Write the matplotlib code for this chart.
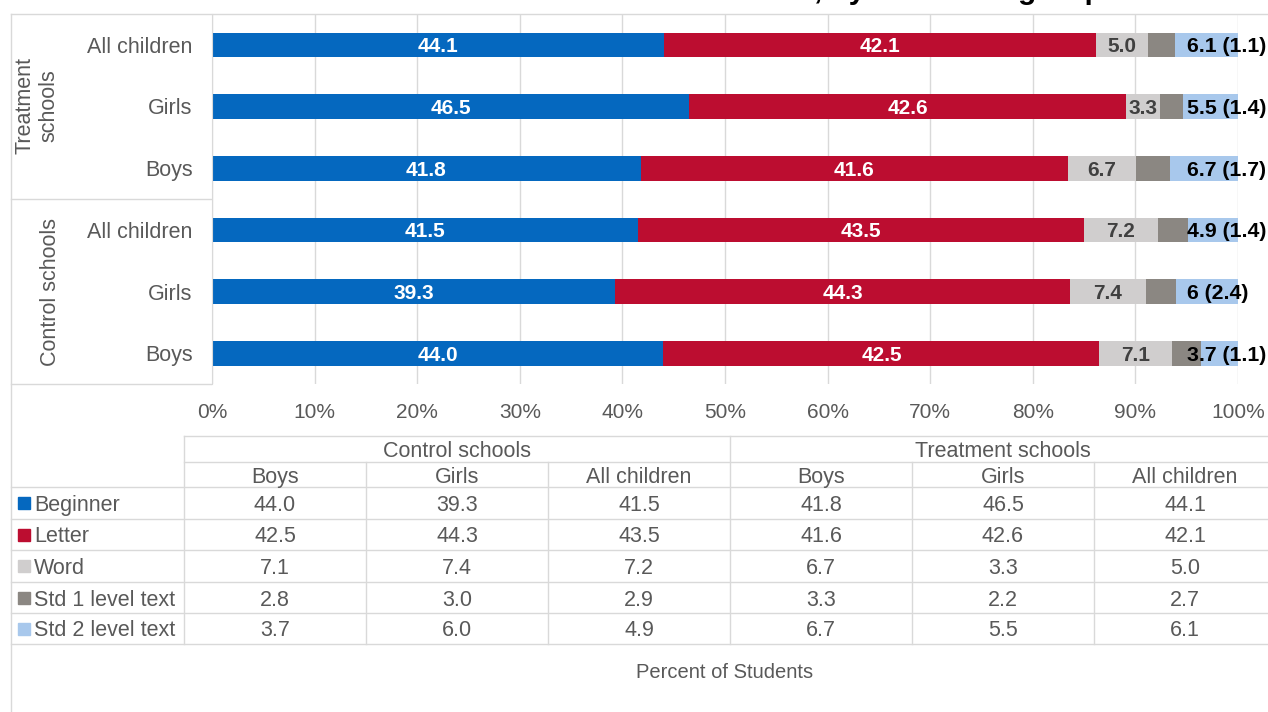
import matplotlib.pyplot as plt
import numpy as np

plt.rcParams['font.family'] = ['Liberation Sans', 'DejaVu Sans']

# data, in table order (bottom bar first)
groups = ["Control schools", "Treatment schools"]
subgroups = ["Boys", "Girls", "All children"]
levels = ["Beginner", "Letter", "Word", "Std 1 level text", "Std 2 level text"]
beginner = [44.0, 39.3, 41.5, 41.8, 46.5, 44.1]
letter = [42.5, 44.3, 43.5, 41.6, 42.6, 42.1]
word = [7.1, 7.4, 7.2, 6.7, 3.3, 5.0]
std1 = [2.8, 3.0, 2.9, 3.3, 2.2, 2.7]
std2 = [3.7, 6.0, 4.9, 6.7, 5.5, 6.1]
std2_labels = ["3.7 (1.1)", "6 (2.4)", "4.9 (1.4)", "6.7 (1.7)", "5.5 (1.4)", "6.1 (1.1)"]
xticks = [0, 10, 20, 30, 40, 50, 60, 70, 80, 90, 100]

colors = ["#0568BF", "#BC0D30", "#D0CECE", "#8B8782", "#A8C8EC"]
gray = "#595959"
line_c = "#D9D9D9"
VA = "center_baseline"

W, H = 1268, 712
fig = plt.figure(figsize=(W / 100, H / 100), dpi=100)

# overlay in pixel coordinates for the table and box lines
ov = fig.add_axes([0, 0, 1, 1])
ov.set_xlim(0, W)
ov.set_ylim(H, 0)
ov.axis("off")

ax = fig.add_axes([212 / W, 1 - 384 / H, 1026 / W, 370 / H])
series = [beginner, letter, word, std1, std2]
y = np.arange(len(beginner))
left = np.zeros(len(beginner))
for vals, c in zip(series, colors):
    ax.barh(y, vals, left=left, height=0.40, color=c, zorder=2)
    left += np.array(vals)

# bar labels
starts = np.cumsum([np.zeros(6)] + [np.array(s) for s in series], axis=0)
for i in range(6):
    ax.text(starts[0][i] + beginner[i] / 2, i, f"{beginner[i]:.1f}", ha="center", va=VA,
            color="white", fontsize=15, fontweight="bold", zorder=3)
    ax.text(starts[1][i] + letter[i] / 2, i, f"{letter[i]:.1f}", ha="center", va=VA,
            color="white", fontsize=15, fontweight="bold", zorder=3)
    ax.text(starts[2][i] + word[i] / 2, i, f"{word[i]:.1f}", ha="center", va=VA,
            color="#404040", fontsize=15, fontweight="bold", zorder=3)
    ax.text(95, i, std2_labels[i], ha="left", va=VA,
            color="black", fontsize=15.3, fontweight="bold", zorder=3, clip_on=False)

ax.set_xlim(0, 100)
ax.set_ylim(-0.5, 5.5)
ax.set_xticks(xticks)
ax.set_xticklabels([f"{t}%" for t in xticks], fontsize=15, color=gray)
ax.tick_params(axis="x", length=0, pad=14)
ax.set_yticks(y)
ax.set_yticklabels(subgroups * 2, fontsize=15.5, color=gray)
ax.tick_params(axis="y", length=0, pad=14)
ax.grid(axis="x", color=line_c, lw=1, zorder=0)
for s in ["top", "right", "bottom"]:
    ax.spines[s].set_visible(False)
ax.spines["left"].set_color(line_c)
ax.patch.set_alpha(0)

# category box
ov.plot([11, W], [13.5, 13.5], color=line_c, lw=1)
ov.plot([11, 11], [13.5, H], color=line_c, lw=1)
ov.plot([11, 211], [199, 199], color=line_c, lw=1)
ov.plot([11, 211], [384, 384], color=line_c, lw=1)
ov.text(37, 106, "Treatment\nschools", rotation=90, ha="center", va="center",
        fontsize=15.5, color=gray)
ov.text(51, 291.5, "Control schools", rotation=90, ha="center", va="center",
        fontsize=15.5, color=gray)

# title, mostly off the top of the image (as in the reference crop)
fig.text(1103 / W, 1 + 1 / H, "Uwezo test results of all children, by treatment group",
         ha="right", va="baseline", fontsize=21.5, fontweight="bold", color="black")

# data table
col_x = [184 + 182 * k for k in range(7)]
row_y = [487, 519, 550, 582, 613, 644]
for yy in [436, 462]:
    ov.plot([184, W], [yy, yy], color=line_c, lw=1)
for yy in row_y:
    ov.plot([11, W], [yy, yy], color=line_c, lw=1)
for k, xx in enumerate(col_x[:6]):
    top = 436 if k in (0, 3) else 462
    ov.plot([xx, xx], [top, 644], color=line_c, lw=1)

for g, name in enumerate(groups):
    ov.text((col_x[3 * g] + col_x[3 * g + 3]) / 2, 449, name, ha="center", va=VA,
            fontsize=15.5, color=gray)
for k in range(6):
    ov.text((col_x[k] + col_x[k + 1]) / 2, 475, subgroups[k % 3], ha="center", va=VA,
            fontsize=15.5, color=gray)

for r, (lev, vals, c) in enumerate(zip(levels, series, colors)):
    yc = (row_y[r] + row_y[r + 1]) / 2
    ov.add_patch(plt.Rectangle((18, yc - 6), 12, 12, color=c))
    ov.text(34, yc, lev, ha="left", va=VA, fontsize=15.5, color=gray)
    for k in range(6):
        ov.text((col_x[k] + col_x[k + 1]) / 2, yc, f"{vals[k]:.1f}", ha="center", va=VA,
                fontsize=15.5, color=gray)

ov.text(725, 671, "Percent of Students", ha="center", va=VA, fontsize=14.5, color=gray)

fig.savefig("out.png", dpi=100)
